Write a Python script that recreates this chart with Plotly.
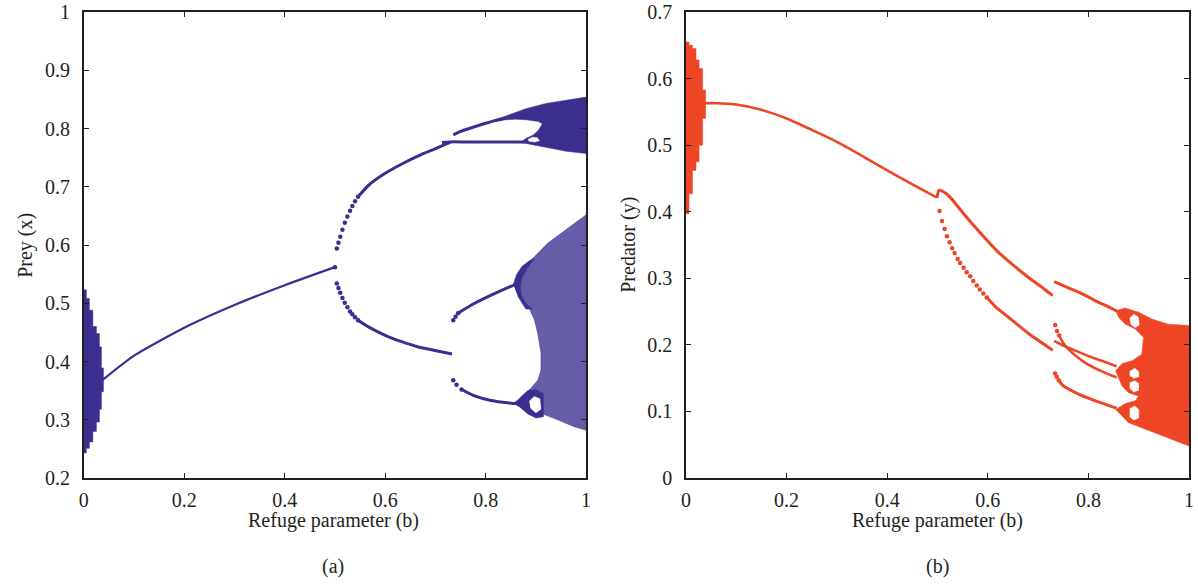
import plotly.graph_objects as go

PURPLE = "#3a2f8e"
PURPLE_SPECKLE = "rgba(58,47,142,0.78)"
ORANGE = "#ee4524"
INK = "#231f20"
FONT = "Liberation Serif"

# ---------------- tick labels ----------------
x_tick_vals = [0, 0.2, 0.4, 0.6, 0.8, 1]
x_tick_text = ["0", "0.2", "0.4", "0.6", "0.8", "1"]
a_y_tick_vals = [0.2, 0.3, 0.4, 0.5, 0.6, 0.7, 0.8, 0.9, 1.0]
a_y_tick_text = ["0.2", "0.3", "0.4", "0.5", "0.6", "0.7", "0.8", "0.9", "1"]
b_y_tick_vals = [0, 0.1, 0.2, 0.3, 0.4, 0.5, 0.6, 0.7]
b_y_tick_text = ["0", "0.1", "0.2", "0.3", "0.4", "0.5", "0.6", "0.7"]

# ---------------- panel (a): prey ----------------
a_stub_x = [0, 0.005, 0.005, 0.011, 0.011, 0.018, 0.018, 0.025, 0.025, 0.031, 0.031, 0.035, 0.035, 0.039,
            0.039, 0.035, 0.035, 0.031, 0.031, 0.025, 0.025, 0.018, 0.018, 0.011, 0.011, 0.005, 0.005, 0]
a_stub_y = [0.523, 0.523, 0.508, 0.508, 0.488, 0.488, 0.460, 0.460, 0.448, 0.448, 0.425, 0.425, 0.389, 0.389,
            0.348, 0.348, 0.318, 0.318, 0.296, 0.296, 0.280, 0.280, 0.262, 0.262, 0.251, 0.251, 0.243, 0.243]

a_p1_x = [0.037, 0.1, 0.2, 0.3, 0.4, 0.5]
a_p1_y = [0.368, 0.410, 0.458, 0.497, 0.531, 0.562]

a_p2u_dots_x = [0.5, 0.5036, 0.507, 0.5105, 0.5148, 0.5195, 0.5247, 0.530, 0.5346, 0.540, 0.546]
a_p2u_dots_y = [0.562, 0.594, 0.604, 0.614, 0.626, 0.638, 0.649, 0.659, 0.667, 0.675, 0.683]
a_p2u_x = [0.546, 0.5676, 0.6, 0.633, 0.666, 0.699, 0.729]
a_p2u_y = [0.683, 0.703, 0.723, 0.739, 0.753, 0.765, 0.776]

a_p2l_dots_x = [0.5036, 0.507, 0.5105, 0.5148, 0.5195, 0.5247, 0.530, 0.5346, 0.540, 0.546]
a_p2l_dots_y = [0.534, 0.526, 0.518, 0.509, 0.501, 0.493, 0.486, 0.481, 0.476, 0.471]
a_p2l_x = [0.546, 0.5676, 0.6, 0.633, 0.666, 0.699, 0.733]
a_p2l_y = [0.471, 0.459, 0.445, 0.434, 0.425, 0.419, 0.413]

a_p4_top_x = [0.7355, 0.75, 0.778, 0.80, 0.82, 0.844, 0.86]
a_p4_top_y = [0.789, 0.795, 0.803, 0.809, 0.814, 0.819, 0.822]
a_p4_mid_x = [0.713, 0.729, 0.76, 0.80, 0.84, 0.878]
a_p4_mid_y = [0.776, 0.777, 0.777, 0.777, 0.777, 0.777]
a_p4_low1_x = [0.7355, 0.740, 0.745, 0.778, 0.811, 0.844, 0.861]
a_p4_low1_y = [0.471, 0.477, 0.483, 0.500, 0.514, 0.527, 0.533]
a_p4_low2_x = [0.7355, 0.742, 0.752, 0.778, 0.811, 0.844, 0.861]
a_p4_low2_y = [0.368, 0.360, 0.352, 0.341, 0.333, 0.329, 0.328]

a_chaos_up_x = [0.82, 0.85, 0.88, 0.92, 0.96, 1.0, 1.0, 0.96, 0.93, 0.90, 0.88, 0.87,
                0.88, 0.895, 0.905, 0.913, 0.905, 0.88, 0.86, 0.84, 0.82]
a_chaos_up_y = [0.815, 0.825, 0.834, 0.843, 0.849, 0.854, 0.757, 0.761, 0.766, 0.771, 0.775, 0.776,
                0.783, 0.789, 0.797, 0.808, 0.812, 0.815, 0.816, 0.815, 0.812]
a_hole_up_x = [0.884, 0.893, 0.903, 0.907, 0.898, 0.886]
a_hole_up_y = [0.781, 0.785, 0.784, 0.779, 0.777, 0.778]

a_chaos_low_x = [0.856, 0.8706, 0.887, 0.9036, 0.923, 0.950, 0.976, 1.0, 1.0, 0.976, 0.943, 0.910, 0.884,
                 0.861, 0.8706, 0.890, 0.9036, 0.910, 0.910, 0.9036, 0.897, 0.887, 0.874, 0.861]
a_chaos_low_y = [0.531, 0.557, 0.571, 0.586, 0.603, 0.620, 0.636, 0.652, 0.282, 0.288, 0.300, 0.311, 0.322,
                 0.328, 0.340, 0.354, 0.368, 0.385, 0.414, 0.448, 0.471, 0.491, 0.506, 0.520]
a_cluster_up_x = [0.855, 0.862, 0.872, 0.887, 0.897, 0.883, 0.873, 0.869, 0.871, 0.880, 0.893, 0.880, 0.864]
a_cluster_up_y = [0.533, 0.550, 0.563, 0.573, 0.577, 0.560, 0.545, 0.530, 0.513, 0.500, 0.490, 0.490, 0.512]
a_cluster_low_x = [0.855, 0.870, 0.884, 0.900, 0.915, 0.915, 0.900, 0.884, 0.870]
a_cluster_low_y = [0.328, 0.338, 0.350, 0.352, 0.345, 0.305, 0.303, 0.310, 0.320]
a_hole_low_x = [0.887, 0.897, 0.908, 0.910, 0.900, 0.889]
a_hole_low_y = [0.332, 0.340, 0.336, 0.318, 0.312, 0.320]

# ---------------- panel (b): predator ----------------
b_stub_x = [0, 0.006, 0.006, 0.013, 0.013, 0.020, 0.020, 0.026, 0.026, 0.033, 0.033, 0.039,
            0.039, 0.033, 0.033, 0.026, 0.026, 0.020, 0.020, 0.013, 0.013, 0.006, 0.006, 0]
b_stub_y = [0.655, 0.655, 0.650, 0.650, 0.645, 0.645, 0.628, 0.628, 0.615, 0.615, 0.583, 0.583,
            0.540, 0.540, 0.500, 0.500, 0.475, 0.475, 0.462, 0.462, 0.427, 0.427, 0.397, 0.397]

b_p1_x = [0.038, 0.06, 0.1, 0.15, 0.2, 0.25, 0.3, 0.35, 0.4, 0.45, 0.499]
b_p1_y = [0.563, 0.563, 0.561, 0.553, 0.540, 0.523, 0.505, 0.484, 0.462, 0.441, 0.421]

b_p2u_x = [0.499, 0.503, 0.512, 0.525, 0.552, 0.584, 0.617, 0.650, 0.683, 0.712, 0.729]
b_p2u_y = [0.421, 0.432, 0.430, 0.422, 0.397, 0.369, 0.342, 0.320, 0.300, 0.284, 0.274]

b_p2l_dots_x = [0.504, 0.509, 0.514, 0.519, 0.524, 0.529, 0.534, 0.540, 0.545, 0.552, 0.558, 0.565, 0.571,
                0.578, 0.584, 0.591, 0.598]
b_p2l_dots_y = [0.401, 0.386, 0.374, 0.363, 0.354, 0.345, 0.338, 0.329, 0.323, 0.316, 0.309, 0.303, 0.296,
                0.289, 0.283, 0.277, 0.271]
b_p2l_x = [0.598, 0.617, 0.637, 0.650, 0.683, 0.729]
b_p2l_y = [0.271, 0.256, 0.244, 0.236, 0.216, 0.192]

b_brA_x = [0.732, 0.75, 0.775, 0.80, 0.814, 0.835, 0.856]
b_brA_y = [0.295, 0.289, 0.281, 0.272, 0.266, 0.259, 0.251]
b_brB_x = [0.732, 0.75, 0.775, 0.8144, 0.856]
b_brB_y = [0.206, 0.199, 0.191, 0.179, 0.168]
b_brC_dots_x = [0.734, 0.7376, 0.742]
b_brC_dots_y = [0.230, 0.221, 0.214]
b_brC_x = [0.742, 0.749, 0.762, 0.788, 0.821, 0.856]
b_brC_y = [0.214, 0.204, 0.192, 0.176, 0.162, 0.151]
b_brD_dots_x = [0.7336, 0.737, 0.741]
b_brD_dots_y = [0.157, 0.152, 0.147]
b_brD_x = [0.741, 0.749, 0.775, 0.814, 0.856]
b_brD_y = [0.147, 0.139, 0.128, 0.116, 0.105]

b_chaos_x = [0.8538, 0.8735, 0.8997, 0.926, 0.959, 1.0, 1.0, 0.972, 0.939, 0.906, 0.880, 0.854,
             0.8735, 0.893, 0.8997, 0.880, 0.867, 0.854, 0.867, 0.887, 0.906, 0.9096, 0.893, 0.8735, 0.860]
b_chaos_y = [0.2514, 0.2555, 0.249, 0.239, 0.231, 0.229, 0.048, 0.056, 0.066, 0.076, 0.083, 0.103,
             0.112, 0.116, 0.123, 0.128, 0.138, 0.161, 0.172, 0.176, 0.186, 0.211, 0.224, 0.231, 0.241]
b_hole_u_x = [0.882, 0.890, 0.899, 0.901, 0.893, 0.884]
b_hole_u_y = [0.240, 0.246, 0.242, 0.230, 0.226, 0.231]
b_hole_m1_x = [0.882, 0.892, 0.900, 0.900, 0.890, 0.882]
b_hole_m1_y = [0.160, 0.165, 0.160, 0.152, 0.150, 0.154]
b_hole_m2_x = [0.882, 0.892, 0.900, 0.900, 0.890, 0.882]
b_hole_m2_y = [0.143, 0.146, 0.142, 0.132, 0.129, 0.135]
b_hole_l_x = [0.882, 0.892, 0.900, 0.900, 0.890, 0.882]
b_hole_l_y = [0.104, 0.108, 0.103, 0.090, 0.087, 0.092]

fig = go.Figure()


def poly(xs, ys, color, xa, ya):
    fig.add_trace(go.Scatter(x=xs, y=ys, mode="lines", fill="toself", fillcolor=color,
                             line=dict(color=color, width=0.5), xaxis=xa, yaxis=ya,
                             hoverinfo="skip", showlegend=False))


def curve(xs, ys, color, xa, ya, width=2.6):
    fig.add_trace(go.Scatter(x=xs, y=ys, mode="lines",
                             line=dict(color=color, width=width, shape="spline", smoothing=0.6),
                             xaxis=xa, yaxis=ya, showlegend=False))


def dots(xs, ys, color, xa, ya, size=4.5):
    fig.add_trace(go.Scatter(x=xs, y=ys, mode="markers", marker=dict(color=color, size=size),
                             xaxis=xa, yaxis=ya, showlegend=False))


# panel (a)
poly(a_stub_x, a_stub_y, PURPLE, "x", "y")
curve(a_p1_x, a_p1_y, PURPLE, "x", "y", 2.2)
dots(a_p2u_dots_x, a_p2u_dots_y, PURPLE, "x", "y")
curve(a_p2u_x, a_p2u_y, PURPLE, "x", "y", 3)
dots(a_p2l_dots_x, a_p2l_dots_y, PURPLE, "x", "y")
curve(a_p2l_x, a_p2l_y, PURPLE, "x", "y", 3)
curve(a_p4_top_x, a_p4_top_y, PURPLE, "x", "y", 3)
curve(a_p4_mid_x, a_p4_mid_y, PURPLE, "x", "y", 3)
dots(a_p4_low1_x[:3], a_p4_low1_y[:3], PURPLE, "x", "y")
curve(a_p4_low1_x[2:], a_p4_low1_y[2:], PURPLE, "x", "y", 3)
dots(a_p4_low2_x[:3], a_p4_low2_y[:3], PURPLE, "x", "y")
curve(a_p4_low2_x[2:], a_p4_low2_y[2:], PURPLE, "x", "y", 3)
poly(a_chaos_up_x, a_chaos_up_y, PURPLE, "x", "y")
poly(a_hole_up_x, a_hole_up_y, "white", "x", "y")
poly(a_chaos_low_x, a_chaos_low_y, PURPLE_SPECKLE, "x", "y")
poly(a_cluster_up_x, a_cluster_up_y, PURPLE, "x", "y")
poly(a_cluster_low_x, a_cluster_low_y, PURPLE, "x", "y")
poly(a_hole_low_x, a_hole_low_y, "white", "x", "y")

# panel (b)
poly(b_stub_x, b_stub_y, ORANGE, "x2", "y2")
curve(b_p1_x, b_p1_y, ORANGE, "x2", "y2", 2.6)
curve(b_p2u_x, b_p2u_y, ORANGE, "x2", "y2", 3)
dots(b_p2l_dots_x, b_p2l_dots_y, ORANGE, "x2", "y2")
curve(b_p2l_x, b_p2l_y, ORANGE, "x2", "y2", 3)
curve(b_brA_x, b_brA_y, ORANGE, "x2", "y2", 3)
curve(b_brB_x, b_brB_y, ORANGE, "x2", "y2", 2.6)
dots(b_brC_dots_x, b_brC_dots_y, ORANGE, "x2", "y2")
curve(b_brC_x, b_brC_y, ORANGE, "x2", "y2", 2.6)
dots(b_brD_dots_x, b_brD_dots_y, ORANGE, "x2", "y2")
curve(b_brD_x, b_brD_y, ORANGE, "x2", "y2", 3)
poly(b_chaos_x, b_chaos_y, ORANGE, "x2", "y2")
for hx, hy in [(b_hole_u_x, b_hole_u_y), (b_hole_m1_x, b_hole_m1_y),
               (b_hole_m2_x, b_hole_m2_y), (b_hole_l_x, b_hole_l_y)]:
    poly(hx, hy, "white", "x2", "y2")

axis_common = dict(showline=True, linecolor=INK, linewidth=1.6, mirror="ticks", ticks="inside",
                   ticklen=5, tickwidth=1.4, tickcolor=INK, showgrid=False, zeroline=False,
                   tickfont=dict(family=FONT, size=20, color=INK), fixedrange=True)

W, H = 1198, 584
fig.update_layout(
    width=W, height=H,
    margin=dict(l=0, r=0, t=12, b=106),
    paper_bgcolor="white", plot_bgcolor="white",
    showlegend=False,
    font=dict(family=FONT, size=20, color=INK),
    xaxis=dict(domain=[79.5 / W, 586 / W], range=[0, 1], tickvals=x_tick_vals, ticktext=x_tick_text,
               anchor="y", ticklabelstandoff=3, **axis_common),
    yaxis=dict(domain=[0, 1], range=[0.2, 1], tickvals=a_y_tick_vals, ticktext=a_y_tick_text,
               anchor="x", ticklabelstandoff=8, **axis_common),
    xaxis2=dict(domain=[686.7 / W, 1194 / W], range=[0, 1], tickvals=x_tick_vals, ticktext=x_tick_text,
                anchor="y2", ticklabelstandoff=3, **axis_common),
    yaxis2=dict(domain=[0, 1], range=[0, 0.7], tickvals=b_y_tick_vals, ticktext=b_y_tick_text,
                anchor="x2", ticklabelstandoff=8, **axis_common),
)

ann_font = dict(family=FONT, size=20, color=INK)
fig.add_annotation(text="Prey (x)", x=20 / W, y=0.5, xref="paper", yref="paper", textangle=-90,
                   showarrow=False, font=ann_font, xanchor="center", yanchor="middle")
fig.add_annotation(text="Predator (y)", x=628 / W, y=0.5, xref="paper", yref="paper", textangle=-90,
                   showarrow=False, font=ann_font, xanchor="center", yanchor="middle")
fig.add_annotation(text="Refuge parameter (b)", x=331 / W, y=-42 / 466, xref="paper", yref="paper",
                   showarrow=False, font=ann_font, xanchor="center", yanchor="middle")
fig.add_annotation(text="Refuge parameter (b)", x=940 / W, y=-42 / 466, xref="paper", yref="paper",
                   showarrow=False, font=ann_font, xanchor="center", yanchor="middle")
fig.add_annotation(text="(a)", x=331 / W, y=-88 / 466, xref="paper", yref="paper",
                   showarrow=False, font=ann_font, xanchor="center", yanchor="middle")
fig.add_annotation(text="(b)", x=940 / W, y=-88 / 466, xref="paper", yref="paper",
                   showarrow=False, font=ann_font, xanchor="center", yanchor="middle")

fig.write_html("out.html")
